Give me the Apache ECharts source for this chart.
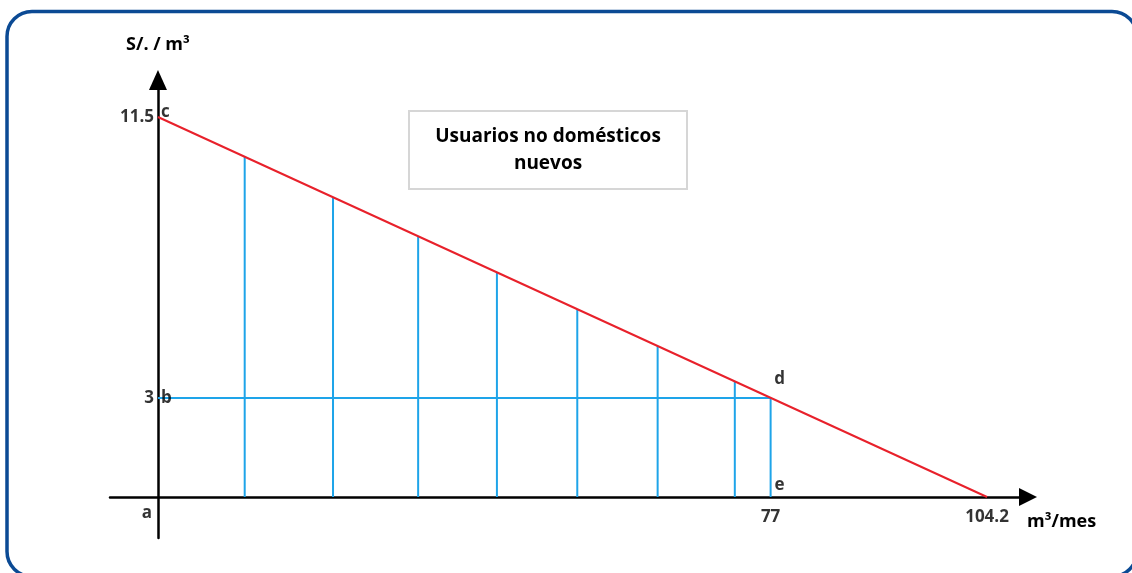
<!DOCTYPE html>
<html><head><meta charset="utf-8">
<script src="https://cdn.jsdelivr.net/npm/echarts@6/dist/echarts.min.js"></script>
<style>html,body{margin:0;padding:0;background:#fff}#c{width:1132px;height:573px}</style>
</head><body><div id="c"></div>
<script>
// Demand line endpoints (price intercept, quantity intercept)
const priceIntercept = 11.5;
const qtyIntercept = 104.2;
// Point d
const pointQ = 77;
const pointP = 3;
// Vertical step lines (x positions)
const stepX = [10.9, 22.0, 32.7, 42.6, 52.7, 62.8, 72.5];
// Text labels: [text, x, y, kind]
const pointLabels = [
  ['11.5', 0, 11.5, 'tickY'],
  ['c', 0, 11.5, 'pt'],
  ['3', 0, 3, 'tickY'],
  ['b', 0, 3, 'ptB'],
  ['a', 0, 0, 'origin'],
  ['d', 77, 3, 'ptD'],
  ['e', 77, 0, 'ptE'],
  ['77', 77, 0, 'tickX'],
  ['104.2', 104.2, 0, 'tickX']
];
const titleText = 'Usuarios no domésticos\nnuevos';
const yName = 'S/. / m³';
const xName = 'm³/mes';

const FONT = 'Open Sans';
const onLine = x => priceIntercept * (1 - x / qtyIntercept);

const series = [];
stepX.concat([pointQ]).forEach(x => {
  series.push({type:'line', data:[[x,0],[x, x===pointQ ? pointP : onLine(x)]], symbol:'none',
    lineStyle:{color:'#1ea4e9', width:2}, silent:true, z:2});
});
series.push({type:'line', data:[[0,pointP],[pointQ,pointP]], symbol:'none', lineStyle:{color:'#1ea4e9', width:2}, z:2});
series.push({type:'line', data:[[0,priceIntercept],[qtyIntercept,0]], symbol:'none', lineStyle:{color:'#e8212b', width:2}, z:3});

const labelCfg = {
  tickY:{position:'left', distance:4},
  pt:{position:'right', distance:3, offset:[0,-5]},
  ptB:{position:'right', distance:3},
  origin:{position:'bottom', distance:8, offset:[-11,0]},
  ptD:{position:'top', distance:10, offset:[9,0]},
  ptE:{position:'top', distance:3, offset:[9,0]},
  tickX:{position:'bottom', distance:12}
};
series.push({type:'scatter', symbolSize:0, z:5,
  data: pointLabels.map(l => ({value:[l[1], l[2]], name:l[0],
    label:Object.assign({show:true, formatter:l[0], color:'#000', fontFamily:FONT, fontWeight:'bold', fontSize:17}, labelCfg[l[3]])}))
});

const chart = echarts.init(document.getElementById('c'), null, {renderer:'canvas'});
chart.setOption({
  animation:false,
  backgroundColor:'#fff',
  grid:{left:110, right:104, top:80, bottom:35},
  xAxis:{type:'value', min:-6.03, max:109.35, splitLine:{show:false}, axisTick:{show:false}, axisLabel:{show:false},
    axisLine:{onZero:true, lineStyle:{color:'#000', width:2.5}, symbol:['none','triangle'], symbolSize:[18,18]},
    name:xName, nameLocation:'end', nameGap:-1,
    nameTextStyle:{color:'#000', fontFamily:FONT, fontWeight:'bold', fontSize:18, verticalAlign:'top', padding:[16,0,0,0]}},
  yAxis:{type:'value', min:-1.24, max:12.62, splitLine:{show:false}, axisTick:{show:false}, axisLabel:{show:false},
    axisLine:{onZero:true, lineStyle:{color:'#000', width:2.5}, symbol:['none','triangle'], symbolSize:[18,20]},
    name:yName, nameLocation:'end', nameGap:26,
    nameTextStyle:{color:'#000', fontFamily:FONT, fontWeight:'bold', fontSize:18}},
  graphic:[
    {type:'rect', shape:{x:7, y:11.5, width:1130, height:565, r:25}, style:{fill:'none', stroke:'#0b4a94', lineWidth:3.5}, z:100},
    {type:'rect', shape:{x:409, y:111, width:278, height:78}, style:{fill:'#fff', stroke:'#d6d6d6', lineWidth:2}, z:10},
    {type:'text', x:548, y:150, style:{text:titleText, fill:'#000', font:'bold 19px "Open Sans"', align:'center', verticalAlign:'middle', lineHeight:27}, z:11}
  ],
  series
});
</script></body></html>
